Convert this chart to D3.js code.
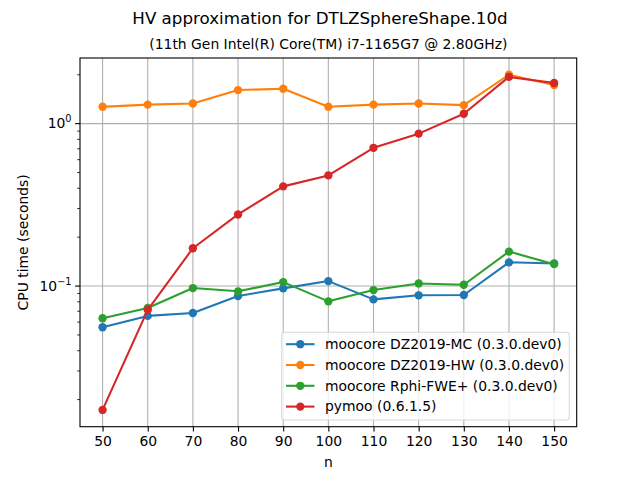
<!DOCTYPE html>
<html>
<head>
<meta charset="utf-8">
<script src="https://cdn.jsdelivr.net/npm/d3@7"></script>
<style>
  body { margin: 0; background: #fff; }
  svg { font-family: "DejaVu Sans", sans-serif; }
</style>
</head>
<body>
<svg id="chart" width="640" height="480"></svg>
<script>
(function() {
  'use strict';

  // problem sizes
  var sizes = [50, 60, 70, 80, 90, 100, 110, 120, 130, 140, 150];

  // CPU time in seconds
  var dz2019mc  = [0.0558, 0.0655, 0.0683, 0.0869, 0.0968, 0.1073, 0.0828, 0.0877, 0.0881, 0.140, 0.1378];
  var dz2019hw  = [1.27, 1.31, 1.33, 1.61, 1.64, 1.27, 1.31, 1.33, 1.30, 2.00, 1.73];
  var rphiFwe   = [0.0634, 0.0733, 0.0972, 0.0928, 0.1058, 0.0805, 0.0945, 0.1038, 0.1019, 0.163, 0.1365];
  var pymoo     = [0.01727, 0.0713, 0.171, 0.276, 0.411, 0.480, 0.71, 0.868, 1.15, 1.94, 1.78];

  var seriesNames = [
    'moocore DZ2019-MC (0.3.0.dev0)',
    'moocore DZ2019-HW (0.3.0.dev0)',
    'moocore Rphi-FWE+ (0.3.0.dev0)',
    'pymoo (0.6.1.5)'
  ];
  var xTicks = [50, 60, 70, 80, 90, 100, 110, 120, 130, 140, 150];
  var yTicks = [0.1, 1];

  var colors = ['#1f77b4', '#ff7f0e', '#2ca02c', '#d62728'];
  var series = [dz2019mc, dz2019hw, rphiFwe, pymoo];

  var svg = d3.select('#chart');
  var left = 80, right = 576.7, top = 58, bottom = 426.7;

  // matplotlib style 5% margins
  var xExt = d3.extent(sizes);
  var xPad = (xExt[1] - xExt[0]) * 0.05;
  var x = d3.scaleLinear()
    .domain([xExt[0] - xPad, xExt[1] + xPad])
    .range([left, right]);

  var allVals = [].concat.apply([], series);
  var lExt = d3.extent(allVals).map(Math.log10);
  var lPad = (lExt[1] - lExt[0]) * 0.05;
  var y = d3.scaleLog()
    .domain([Math.pow(10, lExt[0] - lPad), Math.pow(10, lExt[1] + lPad)])
    .range([bottom, top]);

  // grid
  var grid = svg.append('g').attr('stroke', '#b0b0b0').attr('stroke-width', 1.1);
  grid.selectAll('line.vx').data(xTicks).enter().append('line')
    .attr('x1', function(d) { return x(d); })
    .attr('x2', function(d) { return x(d); })
    .attr('y1', top).attr('y2', bottom);
  grid.selectAll('line.hy').data(yTicks).enter().append('line')
    .attr('y1', function(d) { return y(d); })
    .attr('y2', function(d) { return y(d); })
    .attr('x1', left).attr('x2', right);

  // x axis
  var xAxis = svg.append('g')
    .attr('transform', 'translate(0,' + bottom + ')')
    .call(d3.axisBottom(x).tickValues(xTicks).tickSize(4.9).tickPadding(4.9));
  xAxis.select('.domain').remove();
  xAxis.selectAll('text').attr('font-size', 13.9).attr('fill', '#000')
    .attr('font-family', '"DejaVu Sans", sans-serif');
  xAxis.selectAll('line').attr('stroke-width', 1.1);

  // y axis: minor ticks
  var minor = [];
  [0.01, 0.1, 1].forEach(function(dec) {
    for (var k = 2; k <= 9; k++) {
      var v = dec * k;
      if (v >= y.domain()[0] && v <= y.domain()[1]) minor.push(v);
    }
  });
  svg.append('g').selectAll('line').data(minor).enter().append('line')
    .attr('x1', left - 2.8).attr('x2', left)
    .attr('y1', function(d) { return y(d); })
    .attr('y2', function(d) { return y(d); })
    .attr('stroke', '#000').attr('stroke-width', 0.8);

  var yMaj = svg.append('g');
  yMaj.selectAll('line').data(yTicks).enter().append('line')
    .attr('x1', left - 4.9).attr('x2', left)
    .attr('y1', function(d) { return y(d); })
    .attr('y2', function(d) { return y(d); })
    .attr('stroke', '#000').attr('stroke-width', 1.1);
  var yLab = yMaj.selectAll('text').data(yTicks).enter().append('text')
    .attr('x', left - 8.5)
    .attr('y', function(d) { return y(d) + 4.5; })
    .attr('text-anchor', 'end')
    .attr('font-size', 13.9);
  yLab.append('tspan').text('10');
  yLab.append('tspan')
    .attr('font-size', 9.7)
    .attr('dy', -6)
    .text(function(d) { return Math.round(Math.log10(d)) === 0 ? '0' : '\u22121'; });

  // lines and markers
  var line = d3.line()
    .x(function(d, i) { return x(sizes[i]); })
    .y(function(d) { return y(d); });

  series.forEach(function(vals, s) {
    var g = svg.append('g');
    g.append('path')
      .attr('d', line(vals))
      .attr('fill', 'none')
      .attr('stroke', colors[s])
      .attr('stroke-width', 2.08)
      .attr('stroke-linejoin', 'round')
      .attr('stroke-linecap', 'square');
    g.selectAll('circle').data(vals).enter().append('circle')
      .attr('cx', function(d, i) { return x(sizes[i]); })
      .attr('cy', function(d) { return y(d); })
      .attr('r', 4.17)
      .attr('fill', colors[s]);
  });

  // frame
  svg.append('rect')
    .attr('x', left).attr('y', top)
    .attr('width', right - left).attr('height', bottom - top)
    .attr('fill', 'none').attr('stroke', '#000').attr('stroke-width', 1.1);

  // legend
  var lg = svg.append('g');
  lg.append('rect')
    .attr('x', 281.7).attr('y', 332.3)
    .attr('width', 287.6).attr('height', 87.7)
    .attr('rx', 2.8)
    .attr('fill', '#fff').attr('fill-opacity', 0.8)
    .attr('stroke', '#d9d9d9').attr('stroke-width', 1.1);
  var rows = lg.selectAll('g.row').data(seriesNames).enter().append('g')
    .attr('transform', function(d, i) { return 'translate(0,' + (344.2 + i * 20.8) + ')'; });
  rows.append('line')
    .attr('x1', 286).attr('x2', 314.5)
    .attr('stroke', function(d, i) { return colors[i]; })
    .attr('stroke-width', 2.08);
  rows.append('circle')
    .attr('cx', 300.3).attr('r', 4.17)
    .attr('fill', function(d, i) { return colors[i]; });
  rows.append('text')
    .attr('x', 325).attr('y', 4.8)
    .attr('font-size', 13.9)
    .text(function(d) { return d; });

  // titles and labels
  svg.append('text')
    .attr('x', 320).attr('y', 24)
    .attr('text-anchor', 'middle')
    .attr('font-size', 16.7)
    .text('HV approximation for DTLZSphereShape.10d');
  svg.append('text')
    .attr('x', (left + right) / 2).attr('y', 49)
    .attr('text-anchor', 'middle')
    .attr('font-size', 13.9)
    .text('(11th Gen Intel(R) Core(TM) i7-1165G7 @ 2.80GHz)');
  svg.append('text')
    .attr('x', (left + right) / 2).attr('y', 467)
    .attr('text-anchor', 'middle')
    .attr('font-size', 13.9)
    .text('n');
  svg.append('text')
    .attr('transform', 'translate(28,' + ((top + bottom) / 2) + ') rotate(-90)')
    .attr('text-anchor', 'middle')
    .attr('font-size', 13.9)
    .text('CPU time (seconds)');
})();
</script>
</body>
</html>
